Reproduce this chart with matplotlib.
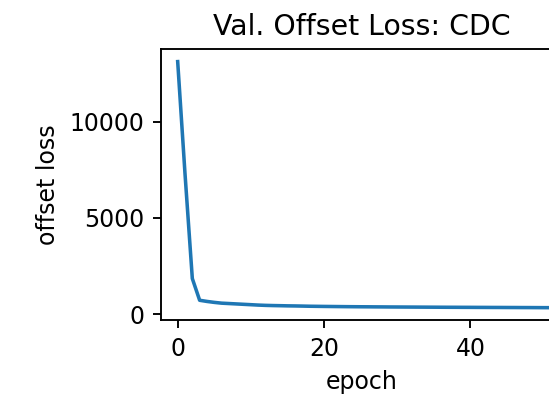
import matplotlib
matplotlib.use("Agg")
import matplotlib.pyplot as plt

# Validation offset loss per epoch
epochs = list(range(53))
offset_loss = [13130, 7300, 1850, 720, 660, 610, 570, 550, 530, 510,
               490, 470, 455, 445, 438, 430, 425, 418, 410, 405,
               400, 396, 392, 388, 385, 382, 380, 377, 375, 372,
               370, 368, 366, 364, 362, 360, 358, 356, 355, 353,
               352, 350, 349, 347, 346, 344, 343, 341, 340, 338,
               336, 335, 334]

x_ticks = [0, 20, 40]
y_ticks = [0, 5000, 10000]
x_range = (-2.32, 52.6)

W, H, DPI = 549, 394, 170
fig = plt.figure(figsize=(W / DPI, H / DPI), dpi=DPI)

# axes box in pixels (the right side runs past the figure edge, as in the reference)
left, right, top, bottom = 160.7, 562.7, 49.3, 320.0
ax = fig.add_axes([left / W, (H - bottom) / H, (right - left) / W, (bottom - top) / H])

ax.plot(epochs, offset_loss)
ax.set_xlim(*x_range)
ax.set_xticks(x_ticks)
ax.set_yticks(y_ticks)
ax.set_title("Val. Offset Loss: CDC")
ax.set_xlabel("epoch")
ax.set_ylabel("offset loss")

fig.savefig("out.png", dpi=DPI)
